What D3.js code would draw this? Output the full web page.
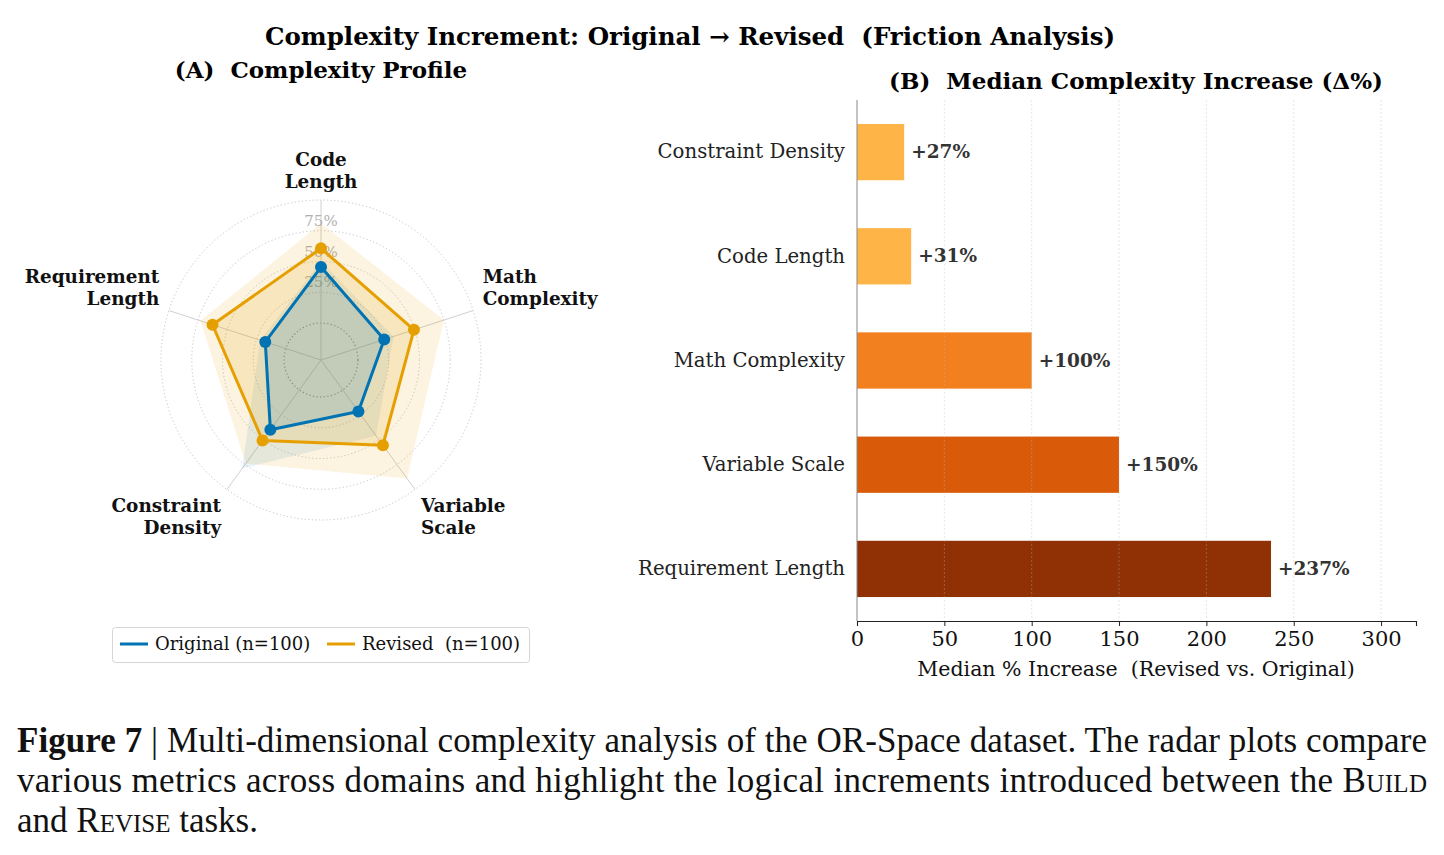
<!DOCTYPE html>
<html>
<head>
<meta charset="utf-8">
<script src="https://cdn.jsdelivr.net/npm/d3@7"></script>
<style>
  body { margin: 0; background: #fff; }
  svg { display: block; }
  text { white-space: pre; }
</style>
</head>
<body>
<div id="chart"></div>
<script>
// radar data (normalised scores, 0..1)
const radarAxes = [["Code", "Length"], ["Math", "Complexity"], ["Variable", "Scale"], ["Constraint", "Density"], ["Requirement", "Length"]];
const origMedian = [0.455, 0.24, 0.217, 0.40, 0.176];
const revMedian = [0.607, 0.494, 0.556, 0.508, 0.627];
const origUpper = [0.50, 0.32, 0.46, 0.79, 0.22];
const revUpper = [0.81, 0.75, 0.89, 0.74, 0.73];
const ringValues = [0, 0.25, 0.5, 0.75, 1.0];
const ringLabels = ["25%", "50%", "75%"];

// bar data
const barCats = ["Constraint Density", "Code Length", "Math Complexity", "Variable Scale", "Requirement Length"];
const barValues = [27, 31, 100, 150, 237];
const barColors = ["#feb446", "#f2801f", "#d95b0a", "#8f3005"];
const xTicks = [0, 50, 100, 150, 200, 250, 300];

const BLUE = "#0173b2", ORANGE = "#e69f00";
const SERIF = "'DejaVu Serif', serif";

const svg = d3.select("#chart").append("svg")
  .attr("width", 1444).attr("height", 855)
  .style("font-family", SERIF);

svg.append("rect").attr("width", 1444).attr("height", 855).attr("fill", "#fff");

// titles
svg.append("text").attr("x", 690).attr("y", 45).attr("text-anchor", "middle")
  .attr("font-size", 24.5).attr("font-weight", "bold")
  .text("Complexity Increment: Original \u2192 Revised  (Friction Analysis)");
svg.append("text").attr("x", 321).attr("y", 78).attr("text-anchor", "middle")
  .attr("font-size", 23).attr("font-weight", "bold")
  .text("(A)  Complexity Profile");
svg.append("text").attr("x", 1136).attr("y", 89).attr("text-anchor", "middle")
  .attr("font-size", 23).attr("font-weight", "bold")
  .text("(B)  Median Complexity Increase (\u0394%)");

// ---------------- radar ----------------
const cx = 321, cy = 360, R = 160;
const rScale = d3.scaleLinear().domain([-0.3, 1.0]).range([0, R]);
const angle = i => i * 2 * Math.PI / radarAxes.length;

const radar = svg.append("g").attr("transform", `translate(${cx},${cy})`);

radar.selectAll("circle.ring").data(ringValues).enter().append("circle")
  .attr("r", d => rScale(d))
  .attr("fill", "none")
  .attr("stroke", d => d === 0 ? "#999" : "#c4c4c4")
  .attr("stroke-width", d => d === 0 ? 1.3 : 1)
  .attr("stroke-dasharray", "1.2,2.4");

radar.selectAll("line.spoke").data(radarAxes).enter().append("line")
  .attr("x1", 0).attr("y1", 0)
  .attr("x2", (d, i) => R * Math.sin(angle(i)))
  .attr("y2", (d, i) => -R * Math.cos(angle(i)))
  .attr("stroke", "#d0d0d0").attr("stroke-width", 1);

radar.selectAll("text.rlab").data(ringLabels).enter().append("text")
  .attr("x", 0).attr("y", (d, i) => -rScale(ringValues[i + 1]) - 5)
  .attr("text-anchor", "middle").attr("font-size", 15).attr("fill", "#b0b0b0")
  .text(d => d);

const radial = d3.lineRadial()
  .angle((d, i) => angle(i))
  .radius(d => rScale(d))
  .curve(d3.curveLinearClosed);

radar.append("path").attr("d", radial(revUpper)).attr("fill", ORANGE).attr("fill-opacity", 0.12);
radar.append("path").attr("d", radial(origUpper)).attr("fill", BLUE).attr("fill-opacity", 0.09);
radar.append("path").attr("d", radial(revMedian)).attr("fill", ORANGE).attr("fill-opacity", 0.15);
radar.append("path").attr("d", radial(origMedian)).attr("fill", BLUE).attr("fill-opacity", 0.15);

[[revMedian, ORANGE], [origMedian, BLUE]].forEach(([vals, col]) => {
  radar.append("path").attr("d", radial(vals)).attr("fill", "none")
    .attr("stroke", col).attr("stroke-width", 3).attr("stroke-linejoin", "round");
  radar.selectAll(null).data(vals).enter().append("circle")
    .attr("cx", (d, i) => rScale(d) * Math.sin(angle(i)))
    .attr("cy", (d, i) => -rScale(d) * Math.cos(angle(i)))
    .attr("r", 6).attr("fill", col);
});

// axis labels
radarAxes.forEach((lines, i) => {
  const a = angle(i);
  const dx = Math.sin(a), dy = -Math.cos(a);
  const lx = 170 * dx, ly = 170 * dy;
  const anchor = Math.abs(dx) < 0.1 ? "middle" : (dx > 0 ? "start" : "end");
  const lh = 22;
  const firstBase = dy < 0 ? ly - 2 - lh * (lines.length - 1) : ly + 14;
  const t = radar.append("text").attr("text-anchor", anchor)
    .attr("font-size", 18.4).attr("font-weight", "bold").attr("fill", "#111");
  lines.forEach((s, k) => {
    t.append("tspan").attr("x", lx).attr("y", firstBase + k * lh).text(s);
  });
});

// legend
const leg = svg.append("g");
leg.append("rect").attr("x", 112.5).attr("y", 627.5).attr("width", 417).attr("height", 35)
  .attr("rx", 3).attr("fill", "#fff").attr("stroke", "#d6d6d6");
[["Original (n=100)", BLUE, 120], ["Revised  (n=100)", ORANGE, 327]].forEach(([lab, col, x0]) => {
  leg.append("line").attr("x1", x0).attr("x2", x0 + 28).attr("y1", 644).attr("y2", 644)
    .attr("stroke", col).attr("stroke-width", 3);
  leg.append("text").attr("x", x0 + 35).attr("y", 650).attr("font-size", 18)
    .attr("fill", "#111").text(lab);
});

// ---------------- bars ----------------
const bx0 = 857, bx1 = 1416, by0 = 100, by1 = 621;
const x = d3.scaleLinear().domain([0, 320]).range([bx0, bx1]);
const y = d3.scaleBand().domain(barCats).range([by0, by1]).paddingInner(0.46).paddingOuter(0.23);
const colorOf = d3.scaleOrdinal().domain(barCats).range([barColors[0], barColors[0], barColors[1], barColors[2], barColors[3]]);

const bars = svg.append("g");
bars.selectAll("rect").data(barCats).enter().append("rect")
  .attr("x", x(0)).attr("y", d => y(d))
  .attr("width", (d, i) => x(barValues[i]) - x(0))
  .attr("height", y.bandwidth())
  .attr("fill", d => colorOf(d));

// grid on top of the bars
bars.selectAll("line.grid").data(xTicks.slice(1)).enter().append("line")
  .attr("x1", d => x(d)).attr("x2", d => x(d)).attr("y1", by0).attr("y2", by1)
  .attr("stroke", "#bbb").attr("stroke-opacity", 0.35).attr("stroke-dasharray", "2,2");

bars.selectAll("text.val").data(barCats).enter().append("text")
  .attr("x", (d, i) => x(barValues[i]) + 7)
  .attr("y", d => y(d) + y.bandwidth() / 2 + 6)
  .attr("font-size", 18.5).attr("font-weight", "bold").attr("fill", "#333")
  .text((d, i) => `+${barValues[i]}%`);

const xAxis = svg.append("g").attr("transform", `translate(0,${by1})`)
  .call(d3.axisBottom(x).tickValues(xTicks).tickSize(5).tickPadding(5));
xAxis.select(".domain").attr("stroke", "#222").attr("stroke-width", 1.1);
xAxis.selectAll(".tick line").attr("stroke", "#222");
xAxis.selectAll(".tick text").attr("font-size", 21).attr("font-family", SERIF).attr("fill", "#111");

const yAxis = svg.append("g").attr("transform", `translate(${bx0},0)`)
  .call(d3.axisLeft(y).tickSize(0).tickPadding(12));
yAxis.select(".domain").attr("stroke", "#888").attr("d", `M0,${by0}V${by1}`);
yAxis.selectAll(".tick text").attr("font-size", 19.7).attr("font-family", SERIF).attr("fill", "#222");

svg.append("text").attr("x", 1136).attr("y", 676).attr("text-anchor", "middle")
  .attr("font-size", 20.5).attr("fill", "#111")
  .text("Median % Increase  (Revised vs. Original)");

// ---------------- caption ----------------
const cap = svg.append("g").style("font-family", "'Liberation Serif', serif").attr("font-size", 35).attr("fill", "#111");
const l1 = cap.append("text").attr("x", 17).attr("y", 752).attr("textLength", 1410).attr("lengthAdjust", "spacing");
l1.append("tspan").attr("font-weight", "bold").text("Figure 7");
l1.append("tspan").text(" | Multi-dimensional complexity analysis of the OR-Space dataset. The radar plots compare");
const l2 = cap.append("text").attr("x", 17).attr("y", 792).attr("textLength", 1410).attr("lengthAdjust", "spacing");
l2.append("tspan").text("various metrics across domains and highlight the logical increments introduced between the ");
l2.append("tspan").style("font-variant", "small-caps").text("Build");
const l3 = cap.append("text").attr("x", 17).attr("y", 832);
l3.append("tspan").text("and ");
l3.append("tspan").style("font-variant", "small-caps").text("Revise");
l3.append("tspan").text(" tasks.");
</script>
</body>
</html>
